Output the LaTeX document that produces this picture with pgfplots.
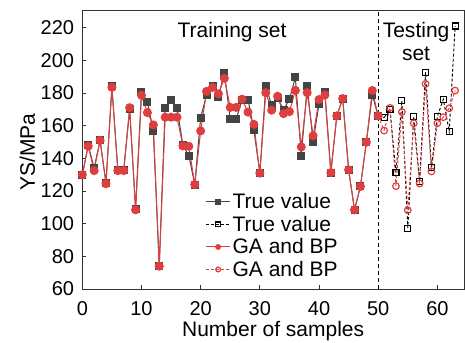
\documentclass[border=0pt]{standalone}
\usepackage{pgfplots}
\pgfplotsset{compat=1.18}
\usepackage{fontspec}
\setmainfont{Liberation Sans}
\definecolor{myred}{RGB}{222,62,62}
\definecolor{mygray}{RGB}{68,68,68}
\newcommand{\bigf}{\fontsize{21}{23}\selectfont}
\newcommand{\tickf}{\fontsize{20}{22}\selectfont}
\begin{document}
\begin{tikzpicture}
\begin{axis}[
  name=ax,
  scale only axis, width=381.6pt, height=278pt,
  xmin=0, xmax=64.5, ymin=60, ymax=230.2,
  xtick={0,10,...,60}, ytick={60,80,...,220},
  tick align=inside, tick pos=left,
  major tick length=4pt,
  every tick/.style={line width=0.8pt, color=black!80},
  axis line style={line width=1pt, color=black!80},
  xlabel={Number of samples}, ylabel={YS/MPa},
  ticklabel style={font=\tickf},
  label style={font=\bigf},
  xticklabel style={anchor=base, yshift=-26pt},
  yticklabel style={anchor=east, xshift=-8pt, inner sep=0pt},
  xlabel style={at={(axis description cs:0.5,0)}, anchor=base, yshift=-47pt},
  ylabel style={at={(axis description cs:-0.124,0.493)}, anchor=base},
  /pgf/number format/assume math mode=true,
  legend style={draw=none, fill=none, at={(axis cs:20.8,119.8)}, anchor=north west, font=\bigf, row sep=1.8pt, inner sep=0pt},
  legend cell align=left,
  legend image code/.code={\draw[mark repeat=2,mark phase=2,mark size=2.4pt] plot coordinates {(0pt,0pt)(12pt,0pt)(24pt,0pt)};},
]
% vertical separator
\addplot[black, line width=0.9pt, dash pattern=on 4pt off 3pt, forget plot] coordinates {(50,60) (50,230.2)};
% training true
\addplot[mygray, line width=1pt, mark=square*, mark size=3.5pt, mark options={solid, fill=mygray}] coordinates {
(0,130)(1,148)(2,134)(3,151)(4,125)(5,184)(6,133)(7,133)(8,170)(9,109)
(10,180.5)(11,174.7)(12,156.8)(13,74)(14,171)(15,175.8)(16,171)(17,148)(18,141.7)(19,124)
(20,165)(21,178.8)(22,184.3)(23,177.5)(24,192.5)(25,164)(26,164)(27,176)(28,176)(29,157.2)
(30,131)(31,184)(32,172.5)(33,177)(34,169.7)(35,176.2)(36,189.5)(37,141.7)(38,184)(39,150.3)
(40,173.3)(41,180.5)(42,131.3)(43,166)(44,176.5)(45,133)(46,108.5)(47,123)(48,150)(49,178.8)(50,166)
};
\addlegendentry{True value}
% testing true connector (no mark)
\addplot[black, line width=0.9pt, dash pattern=on 3pt off 2pt, forget plot] coordinates {(50,166)(51,165)};
\addplot[black, line width=0.9pt, dash pattern=on 3pt off 2pt, mark=square, mark size=3pt, mark options={solid, line width=1.2pt}] coordinates {
(51,165)(52,169.7)(53,131.3)(54,175.2)(55,97.3)(56,165.6)(57,126)(58,192.7)(59,134.6)(60,165.6)(61,176.2)(62,156.4)(63,221)
};
\addlegendentry{True value}
% training predicted
\addplot[myred, line width=1pt, mark=*, mark size=4pt, mark options={solid, fill=myred}] coordinates {
(0,130)(1,147.5)(2,132.5)(3,151)(4,124.5)(5,183.5)(6,132.5)(7,132.5)(8,171)(9,108.5)
(10,178.6)(11,168)(12,160.5)(13,74)(14,165.2)(15,165.2)(16,165.2)(17,147.6)(18,147.4)(19,124)
(20,156.8)(21,181)(22,183.4)(23,179.5)(24,189)(25,171.2)(26,171.2)(27,176.2)(28,168.3)(29,160.8)
(30,131)(31,180.2)(32,169.5)(33,178)(34,167.4)(35,168.6)(36,181.6)(37,147)(38,180.2)(39,153.8)
(40,176)(41,178.8)(42,131.3)(43,166)(44,176.6)(45,133)(46,108.5)(47,122.8)(48,149.9)(49,181.5)(50,166)
};
\addlegendentry{GA and BP}
\addplot[myred, line width=0.9pt, dash pattern=on 3pt off 2pt, forget plot] coordinates {(50,166)(51,157)};
\addplot[myred, line width=0.9pt, dash pattern=on 3pt off 2pt, mark=o, mark size=3.3pt, mark options={solid, line width=1.2pt}] coordinates {
(51,157)(52,170.9)(53,123)(54,168.4)(55,108.3)(56,161.5)(57,124.6)(58,185.6)(59,132)(60,161.5)(61,165.2)(62,170.7)(63,181.5)
};
\addlegendentry{GA and BP}
\node[font=\bigf, anchor=center] at (axis cs:25.3,217.2) {Training set};
\node[font=\bigf, anchor=center, align=center] at (axis cs:56.4,211.5) {Testing\\set};
\end{axis}
\pgfresetboundingbox
\path ([xshift=-82.3pt,yshift=-53pt]ax.south west) rectangle ([xshift=1pt,yshift=11pt]ax.north east);
\end{tikzpicture}
\end{document}
